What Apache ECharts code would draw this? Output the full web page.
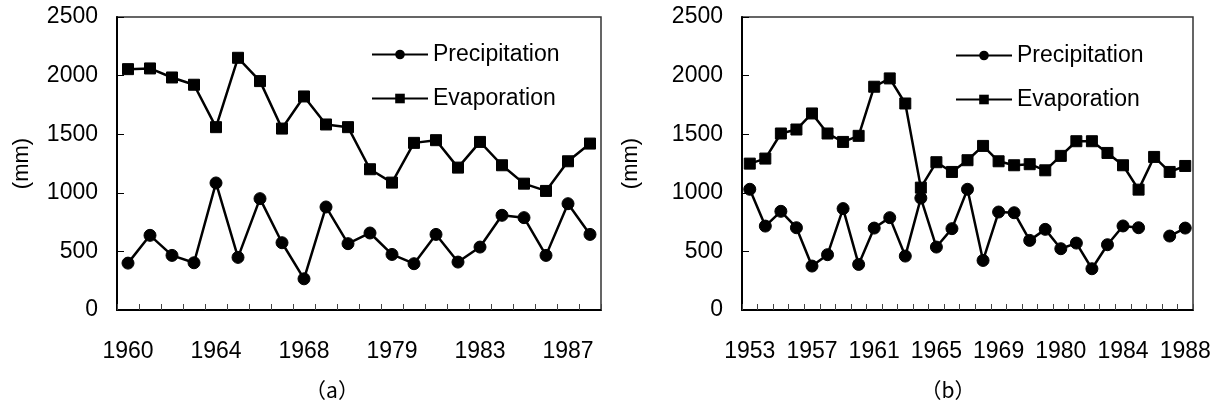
<!DOCTYPE html>
<html>
<head>
<meta charset="utf-8">
<script src="https://cdn.jsdelivr.net/npm/echarts@6/dist/echarts.min.js"></script>
<style>
html,body{margin:0;padding:0;background:#fff;}
#chart{width:1215px;height:405px;}
</style>
</head>
<body>
<div id="chart"></div>
<script>
// Panel (a)
var yearsA = ['1960','1961','1962','1963','1964','1965','1966','1967','1968','1969','1977','1978','1979','1980','1981','1982','1983','1984','1985','1986','1987','1988'];
var precipA = [400, 637, 466, 403, 1084, 449, 950, 574, 266, 879, 566, 657, 474, 395, 645, 409, 537, 808, 788, 466, 907, 645];
var evapA = [2055, 2061, 1984, 1922, 1560, 2152, 1953, 1548, 1822, 1583, 1560, 1201, 1087, 1426, 1449, 1215, 1434, 1235, 1078, 1016, 1269, 1420];

// Panel (b)
var yearsB = ['1953','1954','1955','1956','1957','1958','1959','1960','1961','1962','1963','1964','1965','1966','1967','1968','1969','1977','1978','1979','1980','1981','1982','1983','1984','1985','1986','1987','1988'];
var precipB = [1030, 716, 842, 702, 375, 472, 865, 389, 699, 788, 460, 955, 537, 694, 1030, 423, 836, 830, 594, 688, 523, 571, 352, 557, 717, 702, null, 631, 699];
var evapB = [1249, 1292, 1506, 1540, 1677, 1506, 1434, 1486, 1905, 1976, 1762, 1044, 1261, 1178, 1278, 1400, 1269, 1235, 1244, 1192, 1315, 1440, 1440, 1340, 1235, 1027, 1306, 1178, 1229];

var yTicks = {min: 0, max: 2500, interval: 500};
var panelLabels = ['（a）', '（b）'];
var seriesNames = ['Precipitation', 'Evaporation'];

var FONT = "'Liberation Sans', Arial, 'Noto Sans CJK SC', sans-serif";
var FS = 23;

function xAxisCfg(gridIndex, data) {
  return {
    type: 'category', gridIndex: gridIndex, data: data, boundaryGap: true,
    axisLine: {show: true, lineStyle: {color: '#000', width: 2}},
    axisTick: {show: true, inside: true, length: 6, interval: 0, lineStyle: {color: '#444', width: 1}},
    axisLabel: {interval: 3, margin: 30, color: '#000', fontSize: FS, fontFamily: FONT},
    splitLine: {show: false}
  };
}
function yAxisCfg(gridIndex, nameGap) {
  return {
    type: 'value', gridIndex: gridIndex, min: yTicks.min, max: yTicks.max, interval: yTicks.interval,
    name: '(mm)', nameLocation: 'middle', nameGap: nameGap,
    nameTextStyle: {color: '#000', fontSize: 22, fontFamily: FONT},
    axisLine: {show: true, lineStyle: {color: '#000', width: 2}},
    axisTick: {show: true, inside: true, length: 7, lineStyle: {color: '#000', width: 1}},
    axisLabel: {margin: 19, color: '#000', fontSize: FS, fontFamily: FONT, formatter: function (v) { return String(v); }},
    splitLine: {show: false}
  };
}
function lineSeries(name, idx, data, symbol, size) {
  return {
    name: name, type: 'line', xAxisIndex: idx, yAxisIndex: idx, data: data,
    symbol: symbol, symbolSize: size, showSymbol: true, showAllSymbol: true, connectNulls: false,
    lineStyle: {color: '#000', width: 2.5},
    itemStyle: {color: '#000', borderColor: '#000'},
    emphasis: {disabled: true},
    animation: false
  };
}
function legendCfg(left, top) {
  return {
    orient: 'vertical', left: left, top: top, padding: 0, itemWidth: 56, itemHeight: 12, itemGap: 21,
    data: seriesNames, selectedMode: false,
    textStyle: {color: '#000', fontSize: FS, fontFamily: FONT, lineHeight: 22},
    backgroundColor: 'transparent'
  };
}

var chart = echarts.init(document.getElementById('chart'), null, {renderer: 'canvas'});
chart.setOption({
  backgroundColor: '#fff',
  animation: false,
  grid: [
    {left: 117, top: 17, width: 484, height: 293, show: true, borderColor: '#333', borderWidth: 1.5, backgroundColor: 'transparent'},
    {left: 742, top: 17, width: 451, height: 293, show: true, borderColor: '#333', borderWidth: 1.5, backgroundColor: 'transparent'}
  ],
  xAxis: [xAxisCfg(0, yearsA), xAxisCfg(1, yearsB)],
  yAxis: [yAxisCfg(0, 84), yAxisCfg(1, 100)],
  legend: [legendCfg(371, 43), legendCfg(955, 44)],
  graphic: [
    {type: 'text', x: 332, y: 390, style: {text: panelLabels[0], fill: '#000', font: "21px 'Noto Sans CJK SC', sans-serif", align: 'center', verticalAlign: 'middle'}},
    {type: 'text', x: 948, y: 390, style: {text: panelLabels[1], fill: '#000', font: "21px 'Noto Sans CJK SC', sans-serif", align: 'center', verticalAlign: 'middle'}}
  ],
  series: [
    lineSeries(seriesNames[0], 0, precipA, 'circle', 12),
    lineSeries(seriesNames[1], 0, evapA, 'rect', 11),
    lineSeries(seriesNames[0], 1, precipB, 'circle', 12),
    lineSeries(seriesNames[1], 1, evapB, 'rect', 11)
  ]
});
</script>
</body>
</html>
